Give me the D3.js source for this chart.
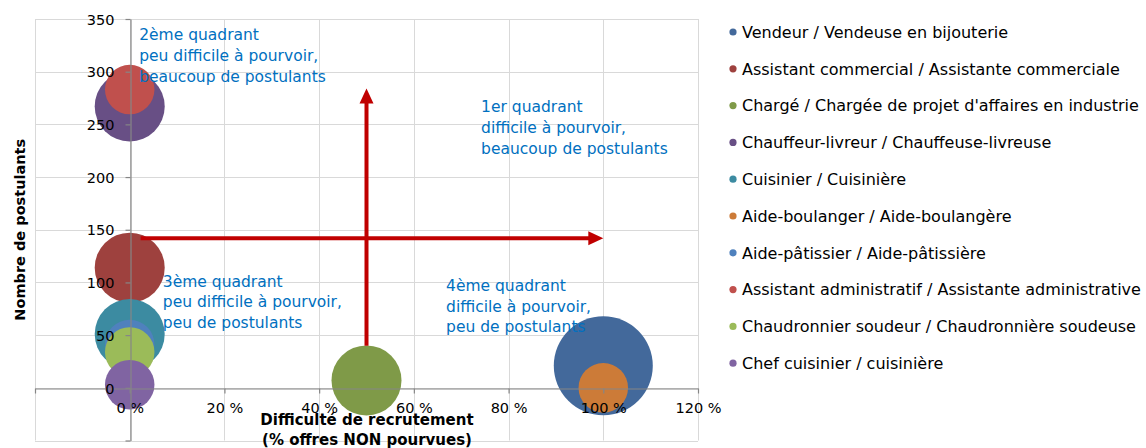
<!DOCTYPE html>
<html>
<head>
<meta charset="utf-8">
<script src="https://cdn.jsdelivr.net/npm/d3@7"></script>
<style>
    body { margin: 0; background: #fff; }
    svg { display: block; }
</style>
</head>
<body>
<svg id="chart" width="1146" height="448"></svg>
<script>
// job titles, in drawing order (later ones sit on top)
const jobs = [
    'Vendeur / Vendeuse en bijouterie',
    'Assistant commercial / Assistante commerciale',
    "Chargé / Chargée de projet d'affaires en industrie",
    'Chauffeur-livreur / Chauffeuse-livreuse',
    'Cuisinier / Cuisinière',
    'Aide-boulanger / Aide-boulangère',
    'Aide-pâtissier / Aide-pâtissière',
    'Assistant administratif / Assistante administrative',
    'Chaudronnier soudeur / Chaudronnière soudeuse',
    'Chef cuisinier / cuisinière'
];
const difficulty = [1.0, 0, 0.5, 0, 0, 1.0, 0, 0, 0, 0];   // % offres non pourvues
const applicants = [21, 114, 7, 267, 51, 0, 41, 283, 34, 3];
const bubbleSize = [4, 2, 2, 2, 2, 1, 1, 1, 1, 1];
const colors = ['#43699b', '#9e413e', '#7f9a48', '#684f85', '#3c8ba1',
                '#cc7b38', '#4f81bd', '#c0504d', '#9bbb59', '#8064a2'];

const xTicks = [-0.2, 0, 0.2, 0.4, 0.6, 0.8, 1.0, 1.2];
const yTicks = [-50, 0, 50, 100, 150, 200, 250, 300, 350];

const quadrants = [
    { lines: ['2ème quadrant', 'peu difficile à pourvoir,', 'beaucoup de postulants'], x: 0.02, y: 330 },
    { lines: ['1er quadrant', 'difficile à pourvoir,', 'beaucoup de postulants'], x: 0.742, y: 261.5 },
    { lines: ['3ème quadrant', 'peu difficile à pourvoir,', 'peu de postulants'], x: 0.07, y: 96 },
    { lines: ['4ème quadrant', 'difficile à pourvoir,', 'peu de postulants'], x: 0.668, y: 92 }
];
// red arrows: [x1, y1] -> [x2, y2] (tip), in data units
const arrows = [
    [[0.023, 142], [1.0, 142]],
    [[0.5, 40], [0.5, 284]]
];

const opt = {
    font: 'DejaVu Sans',
    plot: { left: 35, right: 698, top: 19, bottom: 440.5 },
    grid_color: '#d9d9d9',
    axis_color: '#868686',
    note_color: '#0070c0',
    arrow_color: '#c00000',
    legend: { x: 733, y: 32, step: 36.8, size: 16 }
};

const svg = d3.select('#chart');

const xScale = d3.scaleLinear().domain([-0.2, 1.2]).range([opt.plot.left, opt.plot.right]);
const yScale = d3.scaleLinear().domain([-50, 350]).range([opt.plot.bottom, opt.plot.top]);
const rScale = d3.scaleSqrt().domain([0, 4]).range([0, 49.5]);

// grid
svg.append('g').selectAll('line').data(yTicks).join('line')
    .attr('x1', opt.plot.left).attr('x2', opt.plot.right)
    .attr('y1', d => Math.round(yScale(d)) + 0.5).attr('y2', d => Math.round(yScale(d)) + 0.5)
    .attr('stroke', opt.grid_color);
svg.append('g').selectAll('line').data(xTicks).join('line')
    .attr('x1', d => Math.round(xScale(d)) + 0.5).attr('x2', d => Math.round(xScale(d)) + 0.5)
    .attr('y1', opt.plot.top).attr('y2', opt.plot.bottom)
    .attr('stroke', opt.grid_color);

// axes
const xAxis = svg.append('g')
    .attr('id', 'x-axis')
    .attr('transform', `translate(0,${Math.round(yScale(0)) + 0.5})`)
    .call(d3.axisBottom(xScale).tickValues(xTicks).tickSize(5).tickPadding(9).tickSizeOuter(0)
        .tickFormat(d => d < 0 ? '' : Math.round(d * 100) + ' %'));
const yAxis = svg.append('g')
    .attr('id', 'y-axis')
    .attr('transform', `translate(${Math.round(xScale(0)) + 0.5},0)`)
    .call(d3.axisLeft(yScale).tickValues(yTicks).tickSize(5).tickPadding(11).tickSizeOuter(0)
        .tickFormat(d => d < 0 ? '' : d));

[xAxis, yAxis].forEach(a => {
    a.selectAll('path, line').attr('stroke', opt.axis_color).attr('stroke-width', 1.2);
    a.selectAll('text')
        .style('font-family', opt.font)
        .style('font-size', '14.5px')
        .attr('fill', '#000');
});
yAxis.selectAll('text').attr('dy', '0.36em');

// bubbles
svg.append('g').selectAll('circle').data(jobs).join('circle')
    .attr('cx', (d, i) => xScale(difficulty[i]))
    .attr('cy', (d, i) => yScale(applicants[i]))
    .attr('r', (d, i) => rScale(bubbleSize[i]))
    .attr('fill', (d, i) => colors[i]);

// tick labels stay readable over the bubbles
xAxis.raise();
yAxis.raise();

// arrows
arrows.forEach(([p1, p2]) => {
    const x1 = xScale(p1[0]), y1 = yScale(p1[1]);
    const x2 = xScale(p2[0]), y2 = yScale(p2[1]);
    const len = Math.hypot(x2 - x1, y2 - y1);
    const ux = (x2 - x1) / len, uy = (y2 - y1) / len;
    const head = 15, half = 7;
    const bx = x2 - ux * head, by = y2 - uy * head;
    svg.append('line')
        .attr('x1', x1).attr('y1', y1)
        .attr('x2', bx + ux).attr('y2', by + uy)
        .attr('stroke', opt.arrow_color)
        .attr('stroke-width', 4);
    svg.append('path')
        .attr('d', `M${x2},${y2}L${bx - uy * half},${by + ux * half}L${bx + uy * half},${by - ux * half}Z`)
        .attr('fill', opt.arrow_color);
});

// quadrant notes
quadrants.forEach(q => {
    const t = svg.append('text')
        .attr('x', xScale(q.x))
        .attr('y', yScale(q.y))
        .style('font-family', opt.font)
        .style('font-size', '15.5px')
        .attr('fill', opt.note_color);
    q.lines.forEach((line, i) => {
        t.append('tspan')
            .attr('x', xScale(q.x))
            .attr('dy', i == 0 ? 0 : 20.8)
            .text(line);
    });
});

// axis titles
svg.append('text')
    .attr('transform', `translate(${(opt.plot.left + opt.plot.right) / 2 + 0.5},424.5)`)
    .attr('text-anchor', 'middle')
    .style('font-family', opt.font)
    .style('font-size', '15px')
    .style('font-weight', 'bold')
    .selectAll('tspan')
    .data(['Difficulté de recrutement', '(% offres NON pourvues)'])
    .join('tspan')
    .attr('x', 0)
    .attr('dy', (d, i) => i == 0 ? 0 : 20.5)
    .text(d => d);

svg.append('text')
    .attr('transform', `translate(25,${(opt.plot.top + opt.plot.bottom) / 2}) rotate(-90)`)
    .attr('text-anchor', 'middle')
    .style('font-family', opt.font)
    .style('font-size', '14.5px')
    .style('font-weight', 'bold')
    .text('Nombre de postulants');

// legend
const legend = svg.append('g').selectAll('g').data(jobs).join('g')
    .attr('transform', (d, i) => `translate(${opt.legend.x},${opt.legend.y + i * opt.legend.step})`);
legend.append('circle')
    .attr('r', 3.6)
    .attr('fill', (d, i) => colors[i]);
legend.append('text')
    .attr('x', 9)
    .attr('dy', '0.36em')
    .style('font-family', opt.font)
    .style('font-size', opt.legend.size + 'px')
    .attr('fill', '#000')
    .text(d => d);
</script>
</body>
</html>
